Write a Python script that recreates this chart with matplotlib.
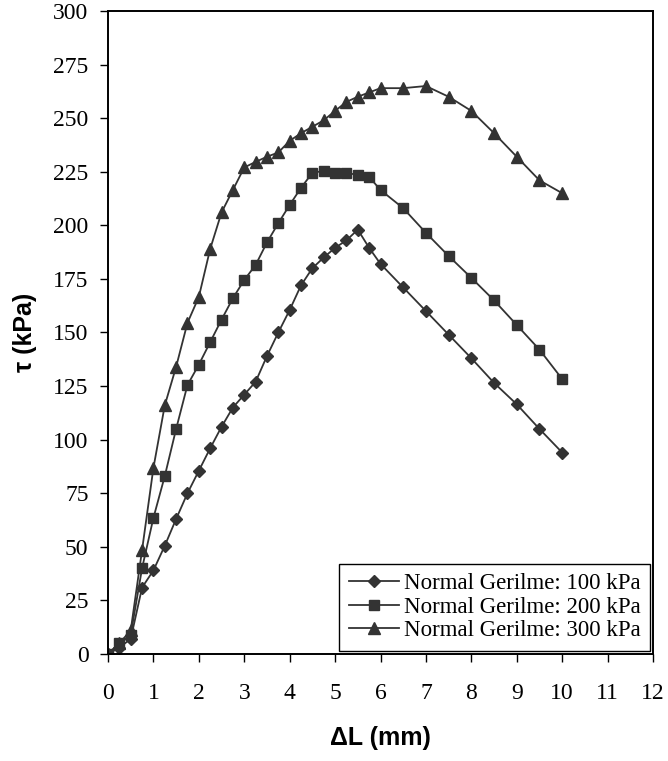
import matplotlib
matplotlib.use("Agg")
import matplotlib.pyplot as plt
import numpy as np

# Data
x_100 = [0, 0.25, 0.5, 0.75, 1.0, 1.25, 1.5, 1.75, 2.0, 2.25, 2.5, 2.75, 3.0, 3.25, 3.5, 3.75,
         4.0, 4.25, 4.5, 4.75, 5.0, 5.25, 5.5, 5.75, 6.0, 6.5, 7.0, 7.5, 8.0, 8.5, 9.0, 9.5, 10.0]
tau_100 = [0, 3, 7, 31, 39, 50.5, 63, 75, 85.5, 96, 106, 115, 121, 127, 139, 150,
           160.5, 172, 180, 185, 189.5, 193, 198, 189.5, 182, 171, 160, 149, 138, 126.5, 116.5, 105, 94]

x_200 = [0, 0.25, 0.5, 0.75, 1.0, 1.25, 1.5, 1.75, 2.0, 2.25, 2.5, 2.75, 3.0, 3.25, 3.5, 3.75,
         4.0, 4.25, 4.5, 4.75, 5.0, 5.25, 5.5, 5.75, 6.0, 6.5, 7.0, 7.5, 8.0, 8.5, 9.0, 9.5, 10.0]
tau_200 = [0, 5, 9, 40, 63.5, 83, 105, 125.5, 135, 145.5, 156, 166, 174.5, 181.5, 192, 201,
           209.5, 217.5, 224.5, 225.4, 224.5, 224.5, 223.5, 222.6, 216.5, 208, 196.5, 185.7, 175.5, 165, 153.5, 142, 128.3]

x_300 = [0, 0.25, 0.5, 0.75, 1.0, 1.25, 1.5, 1.75, 2.0, 2.25, 2.5, 2.75, 3.0, 3.25, 3.5, 3.75,
         4.0, 4.25, 4.5, 4.75, 5.0, 5.25, 5.5, 5.75, 6.0, 6.5, 7.0, 7.5, 8.0, 8.5, 9.0, 9.5, 10.0]
tau_300 = [0, 5, 11, 48.5, 86.8, 116, 134, 154.5, 166.6, 189, 206, 216.5, 227, 229.6, 232, 234,
           239.4, 243, 246, 249, 253.4, 257.6, 260, 262, 264, 264, 265, 260, 253.4, 243, 232, 221, 215]

labels = ["Normal Gerilme: 100 kPa", "Normal Gerilme: 200 kPa", "Normal Gerilme: 300 kPa"]
xticks = list(range(0, 13))
yticks = list(range(0, 301, 25))

serif = ["Liberation Serif", "DejaVu Serif"]
sans = ["Liberation Sans", "DejaVu Sans"]

fig = plt.figure(figsize=(6.68, 7.61), dpi=100)
ax = fig.add_axes([108/668, 1-654/761, (653-108)/668, (654-11)/761])

c = "#333333"
ax.plot(x_100, tau_100, color=c, lw=1.3, marker="D", ms=6.2, mfc=c, mec=c, label=labels[0])
ax.plot(x_200, tau_200, color=c, lw=1.3, marker="s", ms=7.5, mfc=c, mec=c, label=labels[1])
ax.plot(x_300, tau_300, color=c, lw=1.3, marker="^", ms=9, mfc=c, mec=c, label=labels[2])

ax.set_xlim(0, 12)
ax.set_ylim(0, 300)
ax.set_xticks(xticks)
ax.set_yticks(yticks)
ax.set_xticklabels([str(t) for t in xticks], fontfamily=serif, fontsize=17)
ax.set_yticklabels([str(t) for t in yticks], fontfamily=serif, fontsize=17)
ax.tick_params(axis="both", direction="out", length=6, width=1, color="black")
ax.tick_params(axis="x", pad=15)
ax.tick_params(axis="y", pad=8)
for s in ax.spines.values():
    s.set_linewidth(1.4)
    s.set_color("black")

ax.set_xlabel("ΔL (mm)", fontfamily=sans, fontweight="bold", fontsize=18, labelpad=16)
ax.set_ylabel("τ (kPa)", fontfamily=sans, fontweight="bold", fontsize=18, labelpad=12)

leg = ax.legend(loc="lower right", bbox_to_anchor=(1.0, 0.0), borderaxespad=0.15,
                prop={"family": serif, "size": 16.5}, frameon=True, fancybox=False,
                edgecolor="black", framealpha=1, handlelength=2.2, handletextpad=0.2,
                labelspacing=0.12, borderpad=0.4)
leg.get_frame().set_linewidth(1.0)

fig.savefig("out.png", dpi=100)
